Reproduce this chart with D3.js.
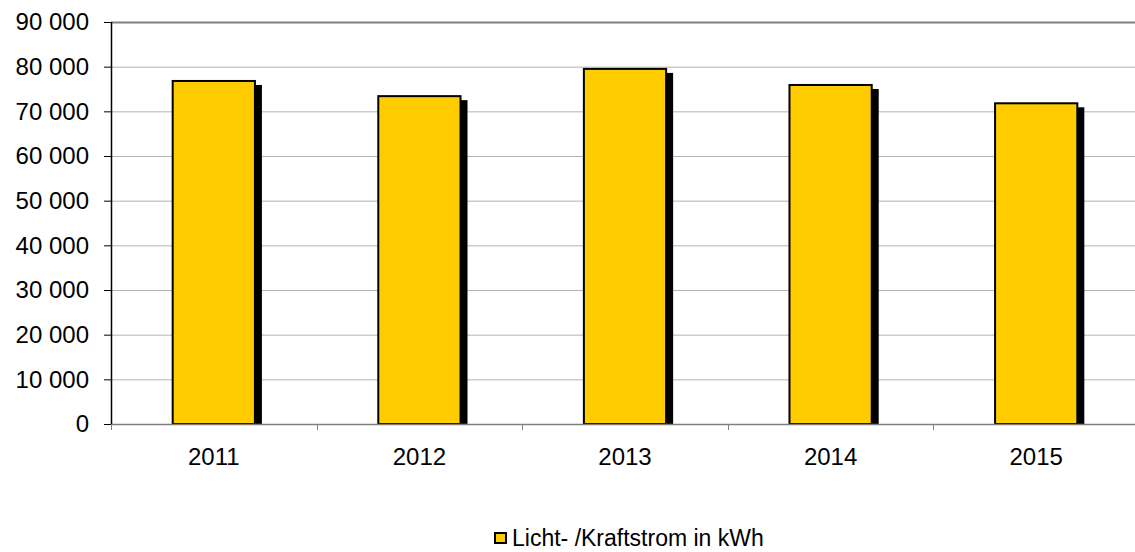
<!DOCTYPE html>
<html>
<head>
<meta charset="utf-8">
<script src="https://cdn.jsdelivr.net/npm/d3@7"></script>
<style>
  body { margin: 0; background: #fff; }
  text { font-family: "Liberation Sans", Arial, sans-serif; fill: #000; }
</style>
</head>
<body>
<div id="chart"></div>
<script>
// data
var years = ["2011", "2012", "2013", "2014", "2015"];
var strom = [76800, 73400, 79500, 75900, 71800];
var yTicks = [0, 10000, 20000, 30000, 40000, 50000, 60000, 70000, 80000, 90000];
var seriesName = "Licht- /Kraftstrom in kWh";

var W = 1135, H = 552;
var margin = {top: 22, right: -4, bottom: 128, left: 111};
var width = W - margin.left - margin.right,
    height = H - margin.top - margin.bottom;

var svg = d3.select("#chart").append("svg")
    .attr("width", W)
    .attr("height", H);

var g = svg.append("g")
    .attr("transform", "translate(" + margin.left + "," + margin.top + ")");

var x = d3.scaleBand().domain(years).range([0, width]).paddingInner(0.6).paddingOuter(0.3);
var y = d3.scaleLinear().domain([0, 90000]).range([height, 0]);

var fmt = function(d) { return d3.format(",")(d).replace(/,/g, " "); };

// grid lines
g.selectAll(".grid").data(yTicks.filter(function(d) { return d > 0; }))
  .enter().append("line")
    .attr("x1", 0).attr("x2", width)
    .attr("y1", function(d) { return y(d) + 0.5; })
    .attr("y2", function(d) { return y(d) + 0.5; })
    .attr("stroke", function(d) { return d === 90000 ? "#808080" : "#b4b4b4"; })
    .attr("stroke-width", function(d) { return d === 90000 ? 2 : 1; });

// shadows
g.selectAll(".shadow").data(strom)
  .enter().append("rect")
    .attr("x", function(d, i) { return x(years[i]) + 7; })
    .attr("y", function(d) { return y(d) + 4; })
    .attr("width", x.bandwidth())
    .attr("height", function(d) { return height - y(d) - 3; })
    .attr("fill", "#000");

// bars
g.selectAll(".bar").data(strom)
  .enter().append("rect")
    .attr("x", function(d, i) { return x(years[i]); })
    .attr("y", function(d) { return y(d); })
    .attr("width", x.bandwidth())
    .attr("height", function(d) { return height - y(d); })
    .attr("fill", "#ffcc00")
    .attr("stroke", "#000")
    .attr("stroke-width", 2);

// x axis
var xa = g.append("g").attr("transform", "translate(0," + height + ")");
xa.append("line").attr("x1", 0).attr("x2", width).attr("y1", 0.5).attr("y2", 0.5)
  .attr("stroke", "#808080").attr("stroke-width", 1.5);
xa.selectAll(".xt").data(d3.range(years.length + 1))
  .enter().append("line")
    .attr("x1", function(i) { return Math.round(i * x.step()) + 0.5; })
    .attr("x2", function(i) { return Math.round(i * x.step()) + 0.5; })
    .attr("y1", 0).attr("y2", 6)
    .attr("stroke", "#808080");
xa.selectAll(".xl").data(years)
  .enter().append("text")
    .attr("x", function(d) { return x(d) + x.bandwidth() / 2; })
    .attr("y", 41)
    .attr("text-anchor", "middle")
    .style("font-size", "24px")
    .text(function(d) { return d; });

// y axis
var ya = g.append("g");
ya.append("line").attr("x1", 0.5).attr("x2", 0.5).attr("y1", 0).attr("y2", height)
  .attr("stroke", "#000").attr("stroke-width", 1.5);
ya.selectAll(".yt").data(yTicks)
  .enter().append("line")
    .attr("x1", -7).attr("x2", 0)
    .attr("y1", function(d) { return y(d) + 0.5; })
    .attr("y2", function(d) { return y(d) + 0.5; })
    .attr("stroke", "#000");
ya.selectAll(".yl").data(yTicks)
  .enter().append("text")
    .attr("x", -22)
    .attr("y", function(d) { return y(d); })
    .attr("dy", "0.35em")
    .attr("text-anchor", "end")
    .style("font-size", "24px")
    .text(fmt);

// legend
var lg = svg.append("g").attr("transform", "translate(494,532)");
lg.append("rect").attr("x", 1).attr("y", 1).attr("width", 11).attr("height", 10)
  .attr("fill", "#ffcc00").attr("stroke", "#000").attr("stroke-width", 2);
lg.append("text").attr("x", 18).attr("y", 6).attr("dy", "0.35em")
  .style("font-size", "23px").text(seriesName);
</script>
</body>
</html>
